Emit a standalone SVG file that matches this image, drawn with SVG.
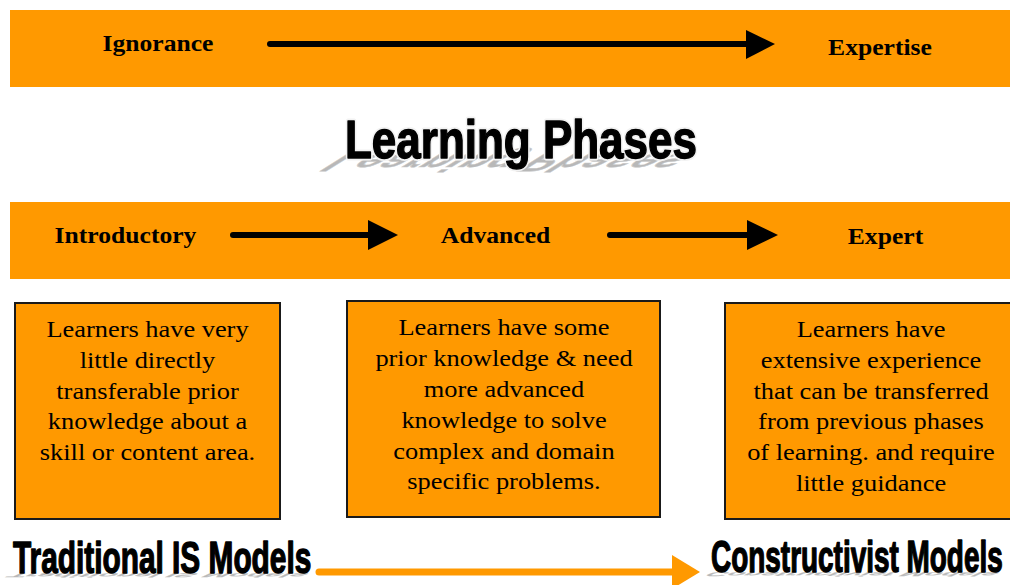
<svg xmlns="http://www.w3.org/2000/svg" width="1010" height="585" viewBox="0 0 1010 585">
  <style>
    .band { fill: #FF9900; }
    .box { fill: #FF9900; stroke: #1a1a1a; stroke-width: 2; }
    .lbl { font-family: "Liberation Serif", "Times New Roman", serif; font-weight: bold; font-size: 23.5px; fill: #000; text-anchor: middle; }
    .body { font-family: "Liberation Serif", "Times New Roman", serif; font-size: 24px; fill: #000; text-anchor: middle; }
    .halo { font-family: "Liberation Sans", Arial, sans-serif; font-weight: bold; fill: #fff; stroke: #f2f2f2; stroke-width: 5; stroke-linejoin: round; }
    .title { font-family: "Liberation Sans", Arial, sans-serif; font-weight: bold; fill: #000; stroke: #000; stroke-width: 1.4; stroke-linejoin: round; }
    .shadow { font-family: "Liberation Sans", Arial, sans-serif; font-weight: bold; fill: #b8b8b8; stroke: #cccccc; stroke-width: 1; }
    .blk { stroke: #000; stroke-width: 6; stroke-linecap: round; fill: none; }
    .org { stroke: #FF9900; stroke-width: 7; stroke-linecap: round; fill: none; }
  </style>

  <!-- top band -->
  <g id="band-top">
    <rect class="band" x="10" y="10" width="1010" height="77"/>
    <text class="lbl" x="158" y="51" transform="translate(158 0) scale(1.09 1) translate(-158 0)">Ignorance</text>
    <text class="lbl" x="880" y="55" transform="translate(880 0) scale(1.09 1) translate(-880 0)">Expertise</text>
  </g>

  <!-- title -->
  <g id="title">
    <text class="shadow" font-size="53" x="0" y="0" transform="matrix(0.825 0 0.8 -0.5 346 153)">Learning Phases</text>
    <text class="halo" font-size="53" x="0" y="0" transform="matrix(0.83 0 0 1 345 158)">Learning Phases</text>
    <text class="title" font-size="53" x="0" y="0" transform="matrix(0.83 0 0 1 345 158)">Learning Phases</text>
  </g>

  <!-- phase band -->
  <g id="band-phases">
    <rect class="band" x="10" y="202" width="1010" height="77"/>
    <text class="lbl" x="125.5" y="243" transform="translate(125.5 0) scale(1.09 1) translate(-125.5 0)">Introductory</text>
    <text class="lbl" x="495.5" y="243" transform="translate(495.5 0) scale(1.09 1) translate(-495.5 0)">Advanced</text>
    <text class="lbl" x="885.5" y="244" transform="translate(885.5 0) scale(1.09 1) translate(-885.5 0)">Expert</text>
  </g>

  <!-- description boxes -->
  <g id="box-introductory">
    <rect class="box" x="15" y="303" width="265" height="216"/>
    <g transform="translate(147.5 0) scale(1.1 1) translate(-147.5 0)">
      <text class="body" x="147.5" y="337">Learners have very</text>
      <text class="body" x="147.5" y="368">little directly</text>
      <text class="body" x="147.5" y="399">transferable prior</text>
      <text class="body" x="147.5" y="429">knowledge about a</text>
      <text class="body" x="147.5" y="460">skill or content area.</text>
    </g>
  </g>

  <g id="box-advanced">
    <rect class="box" x="347" y="301" width="313" height="216"/>
    <g transform="translate(504 0) scale(1.1 1) translate(-504 0)">
      <text class="body" x="504" y="335">Learners have some</text>
      <text class="body" x="504" y="366">prior knowledge &amp; need</text>
      <text class="body" x="504" y="397">more advanced</text>
      <text class="body" x="504" y="428">knowledge to solve</text>
      <text class="body" x="504" y="459">complex and domain</text>
      <text class="body" x="504" y="489">specific problems.</text>
    </g>
  </g>

  <g id="box-expert">
    <rect class="box" x="725" y="303" width="300" height="216"/>
    <g transform="translate(871 0) scale(1.1 1) translate(-871 0)">
      <text class="body" x="871" y="337">Learners have</text>
      <text class="body" x="871" y="368">extensive experience</text>
      <text class="body" x="871" y="399">that can be transferred</text>
      <text class="body" x="871" y="429">from previous phases</text>
      <text class="body" x="871" y="460">of learning. and require</text>
      <text class="body" x="871" y="491">little guidance</text>
    </g>
  </g>

  <!-- bottom labels -->
  <g id="label-traditional">
    <text class="shadow" font-size="44" x="0" y="0" transform="matrix(0.675 0 0.3 -0.14 14 573)">Traditional IS Models</text>
    <text class="title" font-size="44" x="0" y="0" transform="matrix(0.678 0 0 1 13 573)">Traditional IS Models</text>
  </g>
  <g id="label-constructivist">
    <text class="shadow" font-size="44" x="0" y="0" transform="matrix(0.63 0 0.3 -0.14 712 572)">Constructivist Models</text>
    <text class="title" font-size="44" x="0" y="0" transform="matrix(0.635 0 0 1 711 572)">Constructivist Models</text>
  </g>

  <!-- connectors -->
  <g id="connectors">
    <line class="blk" x1="270" y1="44" x2="750" y2="44"/>
    <polygon points="746,30 775,44 746,59" fill="#000"/>
    <line class="blk" x1="233" y1="235" x2="372" y2="235"/>
    <polygon points="368,220 398,235 368,250" fill="#000"/>
    <line class="blk" x1="610" y1="235" x2="751" y2="235"/>
    <polygon points="747,220 778,235 747,250" fill="#000"/>
    <line class="org" x1="319" y1="572" x2="676" y2="572"/>
    <polygon points="672,555 700,572 672,589" fill="#FF9900"/>
  </g>
</svg>
